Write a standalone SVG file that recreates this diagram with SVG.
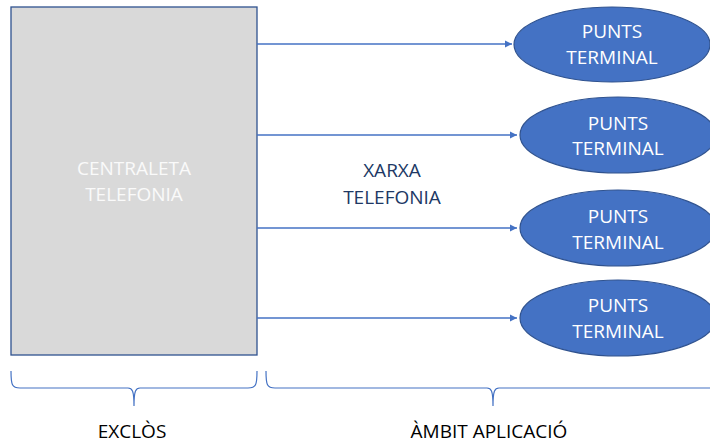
<svg xmlns="http://www.w3.org/2000/svg" width="710" height="445" viewBox="0 0 710 445">
<defs>
<marker id="arr" markerWidth="8" markerHeight="8" refX="7" refY="4" orient="auto" markerUnits="userSpaceOnUse">
<path d="M0,0.5 L7,4 L0,7.5 Z" fill="#4472c4"/>
</marker>
<style>
.term{fill:#4472c4;stroke:#2f528f;stroke-width:1.2}
.tt{font-family:"Open Sans","Noto Sans",sans-serif;font-size:19px;fill:#ffffff;text-anchor:middle}
.conn{stroke:#4472c4;stroke-width:1.3;fill:none}
.brace{stroke:#4472c4;stroke-width:1.2;fill:none}
.lbl{font-family:"Open Sans","Noto Sans",sans-serif;font-size:19px;text-anchor:middle}
</style>
</defs>
<rect width="710" height="445" fill="#ffffff"/>
<g id="centraleta">
<rect x="11" y="7" width="246" height="348" fill="#d9d9d9" stroke="#2f528f" stroke-width="1.3"/>
<text class="lbl" x="134" y="175" fill="#fafafa">CENTRALETA</text>
<text class="lbl" x="134" y="201" fill="#fafafa">TELEFONIA</text>
</g>
<g id="connectors">
<line class="conn" x1="257" y1="44" x2="512" y2="44" marker-end="url(#arr)"/>
<line class="conn" x1="257" y1="135" x2="517" y2="135" marker-end="url(#arr)"/>
<line class="conn" x1="257" y1="228" x2="517" y2="228" marker-end="url(#arr)"/>
<line class="conn" x1="257" y1="318" x2="517" y2="318" marker-end="url(#arr)"/>
</g>
<g id="xarxa">
<text class="lbl" x="392" y="177" fill="#203864">XARXA</text>
<text class="lbl" x="392" y="204" fill="#203864">TELEFONIA</text>
</g>
<g id="terminal1">
<ellipse class="term" cx="612" cy="44.5" rx="98" ry="37.5"/>
<text class="tt" x="612" y="38">PUNTS</text>
<text class="tt" x="612" y="64">TERMINAL</text>
</g>
<g id="terminal2">
<ellipse class="term" cx="618" cy="135" rx="98" ry="38"/>
<text class="tt" x="618" y="130">PUNTS</text>
<text class="tt" x="618" y="155">TERMINAL</text>
</g>
<g id="terminal3">
<ellipse class="term" cx="618" cy="228" rx="98" ry="38"/>
<text class="tt" x="618" y="223">PUNTS</text>
<text class="tt" x="618" y="249">TERMINAL</text>
</g>
<g id="terminal4">
<ellipse class="term" cx="618" cy="318" rx="98" ry="38"/>
<text class="tt" x="618" y="312">PUNTS</text>
<text class="tt" x="618" y="338">TERMINAL</text>
</g>
<g id="brace-exclos">
<path class="brace" d="M11,371 C11,385 12,388 20,388 H128 C132,388 134,390 134,406 C134,390 136,388 140,388 H248 C256,388 257,385 257,371"/>
<text class="lbl" x="132" y="438" fill="#000000">EXCLÒS</text>
</g>
<g id="brace-ambit">
<path class="brace" d="M266,371 C266,385 267,388 275,388 H487 C491,388 493,390 493,406 C493,390 495,388 499,388 H711 C719,388 720,385 720,371"/>
<text class="lbl" x="489" y="438" fill="#000000">ÀMBIT APLICACIÓ</text>
</g>
</svg>
